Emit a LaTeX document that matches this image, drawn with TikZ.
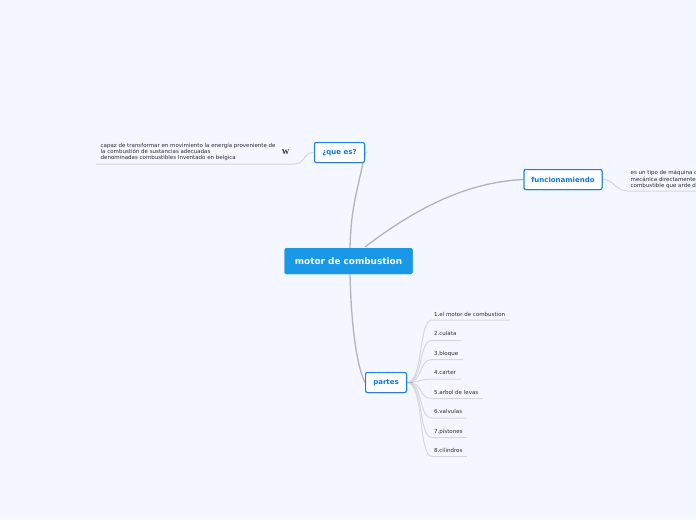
\documentclass[tikz,border=0pt]{standalone}
\usepackage{fontspec}
\setmainfont{DejaVu Sans}
\newfontfamily\wfont{Liberation Serif}
\definecolor{bgc}{HTML}{F4F7FF}
\definecolor{blueb}{HTML}{1A98E8}
\definecolor{edgeb}{HTML}{1580E6}
\definecolor{shadowb}{HTML}{2F7CC8}
\definecolor{txtb}{HTML}{1078DC}
\definecolor{mainl}{HTML}{B2B4BA}
\definecolor{subl}{HTML}{D6D8DE}
\definecolor{txtd}{HTML}{2A2A30}
\tikzset{
 rootbox/.style={fill=blueb,rounded corners=1.5pt,minimum width=128pt,minimum height=26pt,text=white,font=\fontsize{8.9}{10}\selectfont\bfseries,inner sep=0pt},
 topicbox/.style={fill=white,draw=edgeb,line width=1pt,rounded corners=2pt,minimum height=20pt,text=txtb,font=\fontsize{7}{8}\selectfont\bfseries,inner sep=0pt},
 leaf/.style={anchor=west,text=txtd,font=\fontsize{5.5}{6.3}\selectfont,inner sep=0pt,align=left},
 mainline/.style={draw=mainl,line width=1.3pt},
 subline/.style={draw=subl,line width=1pt},
 shadowline/.style={draw=shadowb,line width=1.4pt,line cap=round}
}
\begin{document}
\begin{tikzpicture}[x=1pt,y=-1pt]
\useasboundingbox (0,0) rectangle (696,520);
\fill[bgc] (0,0) rectangle (696,520);
\clip (0,0) rectangle (696,520);
\node[rootbox] (root) at (348.5,261) {motor de combustion};
\node[topicbox,minimum width=50pt] (que) at (339.5,152.5) {¿que es?};
\node[topicbox,minimum width=78pt] (fun) at (563,179.5) {funcionamiendo};
\node[topicbox,minimum width=41pt] (par) at (386,382.5) {partes};
\coordinate (rt) at (350,248);
\coordinate (rt2) at (365,247);
\coordinate (rb) at (350,274);
\coordinate (qe) at (368,152);
\draw[mainline] (rt) .. controls (351,205) and (358,190) .. (que.east);
\draw[subline] (que.east) -- (qe);
\draw[mainline] (rt2) .. controls (420,205) and (470,182) .. (fun.west);
\draw[mainline] (rb) .. controls (351,320) and (356,365) .. (par.west);
\coordinate (q1) at (96,164);
\coordinate (q2) at (294,164);
\draw[subline] (que.west) .. controls (303,152) and (306,164) .. (q2) -- (q1);
\coordinate (f2) at (628,191);
\coordinate (f3) at (696,191);
\draw[subline] (fun.east) .. controls (614,179) and (615,191) .. (f2) -- (f3);
\foreach \n/\y/\xe in {a/320/510,b/340.5/461,c/359.5/463,d/379/461,e/398.5/483,f/418/467,g/437.5/467,h/456.5/467}{
 \coordinate (s\n) at (432,\y);
 \coordinate (t\n) at (\xe,\y);
 \draw[subline] (par.east) .. controls (424,382) and (418,\y) .. (s\n) -- (t\n);
}
\draw[mainl,line width=1.3pt] (par.east) -- ++(6,0);
\node[rootbox] at (root) {motor de combustion};
\node[topicbox,minimum width=50pt] at (que) {¿que es?};
\node[topicbox,minimum width=78pt] at (fun) {funcionamiendo};
\node[topicbox,minimum width=41pt] at (par) {partes};
\draw[shadowline] ([xshift=2pt,yshift=.6pt]que.south west) -- ([xshift=-2pt,yshift=.6pt]que.south east);
\draw[shadowline] ([xshift=2pt,yshift=.6pt]fun.south west) -- ([xshift=-2pt,yshift=.6pt]fun.south east);
\draw[shadowline] ([xshift=2pt,yshift=.6pt]par.south west) -- ([xshift=-2pt,yshift=.6pt]par.south east);
\node[leaf] (ql) at (100.5,152) {capaz de transformar en movimiento la energía proveniente de\\la combustión de sustancias adecuadas\\denominadas combustibles Inventado en belgica};
\node[font=\fontsize{7.5}{8}\wfont\bfseries,text=txtd,inner sep=0pt] (w) at (285.5,152) {W};
\node[leaf] (fl) at (630.5,179.5) {es un tipo de máquina d\\mecánica directamente\\combustible que arde d};
\node[leaf] (p1) at (434,314.5) {1.el motor de combustion};
\node[leaf] (p2) at (434,333.5) {2.culata};
\node[leaf] (p3) at (434,353.5) {3.bloque};
\node[leaf] (p4) at (434,372.5) {4.carter};
\node[leaf] (p5) at (434,392.5) {5.arbol de levas};
\node[leaf] (p6) at (434,411.5) {6.valvulas};
\node[leaf] (p7) at (434,431.5) {7.pistones};
\node[leaf] (p8) at (434,450.5) {8.cilindros};
\end{tikzpicture}
\end{document}
